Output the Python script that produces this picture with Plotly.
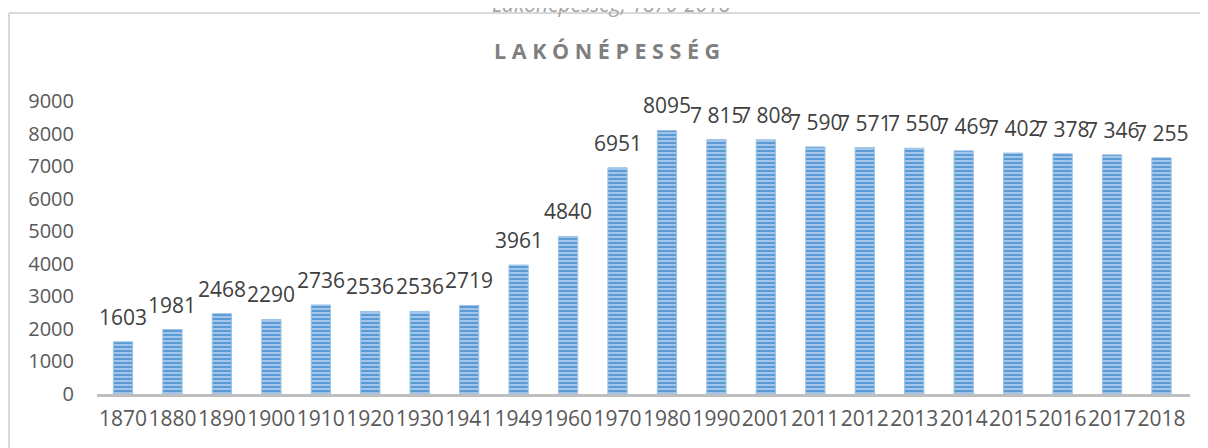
import plotly.graph_objects as go

# Lakónépesség adatai
years = ["1870", "1880", "1890", "1900", "1910", "1920", "1930", "1941", "1949",
         "1960", "1970", "1980", "1990", "2001", "2011", "2012", "2013", "2014",
         "2015", "2016", "2017", "2018"]
population = [1603, 1981, 2468, 2290, 2736, 2536, 2536, 2719, 3961,
              4840, 6951, 8095, 7815, 7808, 7590, 7571, 7550, 7469,
              7402, 7378, 7346, 7255]
labels = ["1603", "1981", "2468", "2290", "2736", "2536", "2536", "2719", "3961",
          "4840", "6951", "8095", "7 815", "7 808", "7 590", "7 571", "7 550", "7 469",
          "7 402", "7 378", "7 346", "7 255"]
y_ticks = [0, 1000, 2000, 3000, 4000, 5000, 6000, 7000, 8000, 9000]

FONT = "Open Sans"

fig = go.Figure()
fig.add_trace(go.Bar(
    x=years,
    y=population,
    marker=dict(
        color="#a9c9ec",
        line=dict(color="#9dc3e6", width=1),
        pattern=dict(shape="-", fgcolor="#5b9bd5", bgcolor="#b4d0ee",
                     fgopacity=1, size=4, solidity=0.6, fillmode="replace"),
    ),
    hoverinfo="x+y",
))

# data labels above each bar (category index, so the numeric-looking
# year strings are not read as positions)
for i, (val, lab) in enumerate(zip(population, labels)):
    fig.add_annotation(x=i, y=val, text=lab, showarrow=False,
                       yanchor="middle", yshift=25,
                       font=dict(family=FONT, size=21, color="#404040"))

# chart title with letter spacing
title = " ".join("LAKÓNÉPESSÉG")
fig.add_annotation(xref="paper", yref="paper", x=0.4666, y=1.174,
                   text="<b>" + title + "</b>", showarrow=False,
                   xanchor="center", yanchor="middle",
                   font=dict(family=FONT, size=21.5, color="#7f7f7f"))

# caption above the frame (partly cut off)
fig.add_annotation(xref="paper", yref="paper", x=0.471, y=1.277,
                   text="<i>Lakónépesség, 1870-2018</i>", showarrow=False,
                   xanchor="center", yanchor="bottom",
                   font=dict(family=FONT, size=21, color="#a6a6a6"))

# chart frame
fig.add_shape(type="line", xref="paper", yref="paper",
              x0=-0.0805, x1=-0.0805, y0=1.3003, y1=-0.4,
              line=dict(color="#d9d9d9", width=2))
fig.add_shape(type="line", xref="paper", yref="paper",
              x0=-0.0805, x1=1.2, y0=1.3003, y1=1.3003,
              line=dict(color="#d9d9d9", width=2))

# the page adds an 8px body margin, so the figure is 8px smaller
fig.update_layout(
    width=1200, height=440,
    margin=dict(l=89, r=18, t=93, b=54, autoexpand=False),
    paper_bgcolor="white",
    plot_bgcolor="white",
    bargap=0.61,
    showlegend=False,
    font=dict(family=FONT, color="#595959"),
)
fig.update_xaxes(
    type="category",
    showline=True, linecolor="#bfbfbf", linewidth=3,
    showgrid=False, ticks="",
    tickangle=0,
    ticklabelstandoff=4,
    tickfont=dict(family=FONT, size=21, color="#595959"),
)
fig.update_yaxes(
    range=[0, 9000],
    tickvals=y_ticks,
    showgrid=False, zeroline=False, showline=False, ticks="",
    ticklabelstandoff=22,
    tickfont=dict(family=FONT, size=20, color="#595959"),
)

fig.write_html("out.html")
